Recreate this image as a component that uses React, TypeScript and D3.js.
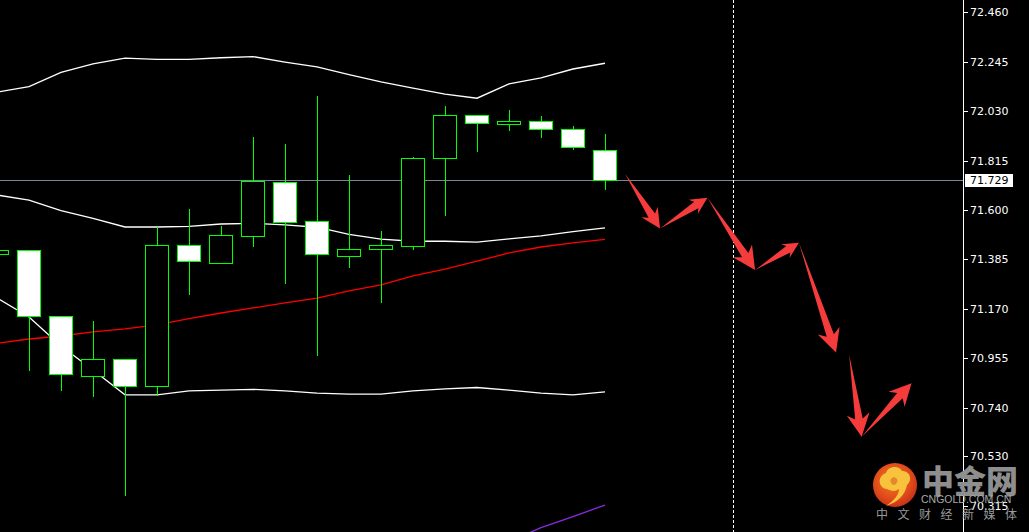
import React from 'react';
import * as d3 from 'd3';

const W = 1029;
const H = 532;

// OHLC per bar (index 0 is the partially visible bar at the left edge)
const opens = [71.407, 71.425, 71.140, 70.877, 70.951, 70.833, 71.447, 71.368, 71.486, 71.720, 71.551, 71.401, 71.429, 71.442, 71.825, 72.012, 71.973, 71.986, 71.951, 71.860];
const highs = [71.425, 71.430, 71.140, 71.122, 70.951, 71.530, 71.609, 71.536, 71.922, 71.891, 72.100, 71.757, 71.513, 71.835, 72.057, 72.012, 72.039, 72.013, 71.970, 71.935];
const lows = [71.407, 70.906, 70.819, 70.793, 70.361, 70.796, 71.236, 71.368, 71.443, 71.284, 70.971, 71.354, 71.200, 71.432, 71.580, 71.858, 71.949, 71.919, 71.867, 71.693];
const closes = [71.425, 71.140, 70.886, 70.951, 70.833, 71.447, 71.377, 71.490, 71.725, 71.547, 71.407, 71.429, 71.447, 71.825, 72.012, 71.977, 71.986, 71.951, 71.873, 71.729];

// Bollinger bands
const upperBand = [72.112, 72.136, 72.198, 72.235, 72.260, 72.255, 72.255, 72.262, 72.267, 72.243, 72.222, 72.189, 72.157, 72.130, 72.104, 72.086, 72.148, 72.174, 72.213, 72.238];
const middleBand = [71.665, 71.643, 71.597, 71.564, 71.526, 71.526, 71.529, 71.539, 71.542, 71.535, 71.525, 71.494, 71.473, 71.464, 71.464, 71.460, 71.474, 71.487, 71.506, 71.522];
const lowerBand = [71.217, 71.135, 71.009, 70.904, 70.796, 70.796, 70.813, 70.817, 70.820, 70.813, 70.804, 70.799, 70.799, 70.813, 70.822, 70.828, 70.817, 70.804, 70.796, 70.809];

// Moving averages
const redMA = [71.020, 71.039, 71.052, 71.070, 71.083, 71.100, 71.128, 71.152, 71.174, 71.196, 71.217, 71.248, 71.274, 71.313, 71.343, 71.378, 71.413, 71.439, 71.457, 71.472];
const purpleStart = 16;
const purpleMA = [70.157, 70.219, 70.267, 70.317];

// Price axis
const tickLabels = ['72.460', '72.245', '72.030', '71.815', '71.600', '71.385', '71.170', '70.955', '70.740', '70.530', '70.315'];
const currentPrice = 71.729;
const separatorIndex = 23;

// Forecast arrows: [barIndex, price] from -> to
const arrowFrom = [[19.625, 71.757], [20.72, 71.520], [22.2, 71.653], [23.69, 71.339], [25.06, 71.458], [26.63, 70.970], [27.02, 70.614]];
const arrowTo = [[20.72, 71.520], [22.2, 71.653], [23.69, 71.339], [25.06, 71.458], [26.22, 70.980], [27.02, 70.614], [28.58, 70.847]];

const AXIS_X = 963.5;

function arrowPath(x0: number, y0: number, x1: number, y1: number) {
  const dx = x1 - x0, dy = y1 - y0;
  const L = Math.hypot(dx, dy);
  const ux = dx / L, uy = dy / L;
  const nx = -uy, ny = ux;
  const hl = Math.min(23, Math.max(16, 0.3 * L));
  const hw = hl * 0.5;
  const sw = 3.8;
  const jx = x1 - ux * hl * 0.78, jy = y1 - uy * hl * 0.78;
  const bx = x1 - ux * hl, by = y1 - uy * hl;
  const pts = [
    [x0, y0],
    [jx + nx * sw, jy + ny * sw],
    [bx + nx * hw, by + ny * hw],
    [x1, y1],
    [bx - nx * hw, by - ny * hw],
    [jx - nx * sw, jy - ny * sw],
  ];
  return 'M' + pts.map(p => p[0].toFixed(2) + ',' + p[1].toFixed(2)).join('L') + 'Z';
}

export default function App() {
  const x = d3.scaleLinear().domain([0, 19]).range([-3, 605]);
  const y = d3.scaleLinear().domain([72.46, 70.315]).range([12.2, 505.5]);
  const py = (v: number) => Math.round(y(v)) + 0.5;

  const lineGen = (offset: number) =>
    d3.line<number>().x((_, i) => x(i + offset)).y(d => y(d));

  const curY = py(currentPrice);

  return (
    <svg width={W} height={H} style={{ position: 'absolute', left: 0, top: 0, display: 'block', background: '#000' }}>
      <defs>
        <clipPath id="plot">
          <rect x={0} y={0} width={AXIS_X} height={H} />
        </clipPath>
        <radialGradient id="logoGrad" cx="45%" cy="40%" r="60%">
          <stop offset="0%" stopColor="#f57a22" />
          <stop offset="70%" stopColor="#e04a1a" />
          <stop offset="100%" stopColor="#c8321a" />
        </radialGradient>
      </defs>
      <rect x={0} y={0} width={W} height={H} fill="#000" />

      <g clipPath="url(#plot)">
        {/* current price line */}
        <line x1={0} x2={AXIS_X} y1={curY} y2={curY} stroke="#778899" strokeWidth={1} />
        {/* period separator */}
        <line x1={x(separatorIndex) + 0.5} x2={x(separatorIndex) + 0.5} y1={0} y2={H} stroke="#ffffff" strokeWidth={1} strokeDasharray="3,2" />

        {/* bands */}
        <path d={lineGen(0)(upperBand) || ''} fill="none" stroke="#fff" strokeWidth={1.3} />
        <path d={lineGen(0)(middleBand) || ''} fill="none" stroke="#fff" strokeWidth={1.3} />
        <path d={lineGen(0)(lowerBand) || ''} fill="none" stroke="#fff" strokeWidth={1.3} />
        <path d={lineGen(0)(redMA) || ''} fill="none" stroke="#ff0000" strokeWidth={1.3} />
        <path d={lineGen(purpleStart)(purpleMA) || ''} fill="none" stroke="#8a2be2" strokeWidth={1.3} />

        {/* candles */}
        {opens.map((o, i) => {
          const c = closes[i];
          const cx = Math.round(x(i));
          const top = py(Math.max(o, c));
          const bot = py(Math.min(o, c));
          const bull = c > o;
          return (
            <g key={i} shapeRendering="crispEdges">
              <line x1={cx + 0.5} x2={cx + 0.5} y1={py(highs[i])} y2={top} stroke="#00ff00" strokeWidth={1} />
              <line x1={cx + 0.5} x2={cx + 0.5} y1={bot} y2={py(lows[i])} stroke="#00ff00" strokeWidth={1} />
              <rect x={cx - 11.5} y={top} width={23} height={Math.max(1, bot - top)} fill={bull ? '#000' : '#fff'} stroke="#00ff00" strokeWidth={1} />
            </g>
          );
        })}

        {/* arrows */}
        {arrowFrom.map((f, i) => (
          <path key={i} d={arrowPath(x(f[0]), y(f[1]), x(arrowTo[i][0]), y(arrowTo[i][1]))} fill="#f53b3b" />
        ))}
      </g>

      {/* price axis */}
      <line x1={AXIS_X} x2={AXIS_X} y1={0} y2={H} stroke="#fff" strokeWidth={1} />
      {tickLabels.map(t => {
        const v = parseFloat(t);
        const ty = py(v);
        return (
          <g key={t}>
            <line x1={AXIS_X} x2={AXIS_X + 4} y1={ty} y2={ty} stroke="#fff" strokeWidth={1} shapeRendering="crispEdges" />
            <text x={970} y={ty} dominantBaseline="central" fill="#fff" fontFamily="'DejaVu Sans', sans-serif" fontSize={11}>{t}</text>
          </g>
        );
      })}
      <rect x={965} y={curY - 6.5} width={48} height={13} fill="#fff" />
      <text x={970} y={curY} dominantBaseline="central" fill="#000" fontFamily="'DejaVu Sans', sans-serif" fontSize={11}>{currentPrice.toFixed(3)}</text>

      {/* watermark */}
      <g>
        <circle cx={895} cy={485} r={22} fill="url(#logoGrad)" />
        <path d="M887 489 C878 488 877 476 886 473 C888 466 899 465 902 471 C910 471 913 480 907 485 C905 495 898 502 886 506 C895 500 899 494 899 489 C895 492 891 491 887 489 Z" fill="#f7c33c" />
        <path d="M891 483 C889 479 893 476 896 478 C899 480 897 485 893 485 Z" fill="#e8872a" />
        <text x={922} y={493} fill="#8e8e8e" fontFamily="'Noto Sans CJK SC', sans-serif" fontWeight={900} fontSize={32}>中金网</text>
        <text x={921} y={503} fill="#a8a8a8" fontFamily="'Liberation Sans', Arial, sans-serif" fontSize={10.5}>CNGOLD.COM.CN</text>
        <text x={876} y={519} fill="#9a9a9a" fontFamily="'Noto Sans CJK SC', sans-serif" fontSize={12} letterSpacing={9.5}>中文财经新媒体</text>
      </g>
    </svg>
  );
}
